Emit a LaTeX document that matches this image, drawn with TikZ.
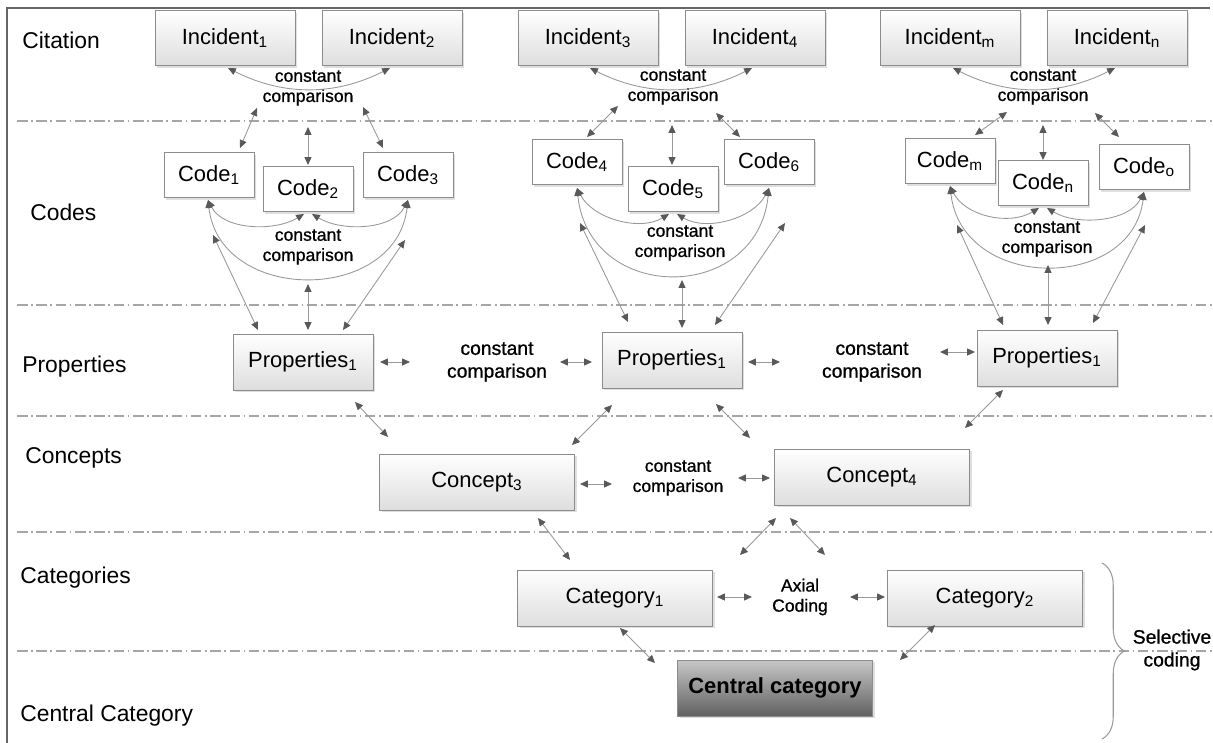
\documentclass[tikz,border=0pt]{standalone}
\usepackage{fontspec}
\setmainfont{Liberation Sans}
\newfontfamily\notefont[FakeBold=0.9]{Liberation Sans}
\usetikzlibrary{arrows.meta}
\usetikzlibrary{shadows}
\usetikzlibrary{decorations.pathreplacing}

\begin{document}
\begin{tikzpicture}[x=0.02cm, y=-0.02cm,
		box/.style={draw=black!45, top color=white, bottom color=black!13, inner sep=0pt,
			drop shadow={shadow xshift=1.4pt, shadow yshift=-1.4pt, opacity=0.25},
			font=\fontsize{12.5}{15}\selectfont},
		incbox/.style={box, minimum width=2.8cm, minimum height=1.1cm},
		codebox/.style={box, top color=white, bottom color=white, minimum width=1.8cm, minimum height=0.9cm},
		propbox/.style={box, minimum width=2.8cm, minimum height=1.12cm},
		widebox/.style={box, minimum width=3.9cm, minimum height=1.12cm},
		centralbox/.style={widebox, top color=black!22, bottom color=black!62, font=\fontsize{12.5}{15}\selectfont\bfseries},
		note/.style={align=center, inner sep=0pt, font=\notefont\fontsize{10}{11.5}\selectfont},
		bignote/.style={note, font=\notefont\fontsize{11}{13}\selectfont},
		row/.style={anchor=west, inner sep=0pt, font=\fontsize{13}{15}\selectfont},
		link/.style={{Triangle[length=4.5pt,width=4pt,color=black!65]}-{Triangle[length=4.5pt,width=4pt,color=black!65]}, draw=black!40, line width=0.5pt},
		sep/.style={draw=black!35, line width=0.6pt, dash pattern=on 6pt off 2pt on 1pt off 2pt},
		selbrace/.style={decorate, decoration={brace, amplitude=0.45cm}, draw=black!40, line width=0.6pt}
	]
	\useasboundingbox (0,0) rectangle (1213,743);
	\draw[black!60, line width=1pt] (1210,8) -- (7,8) -- (7,743);
	\foreach \y in {121,305,416,532,651} {
		\draw[sep] (17,\y) -- (1213,\y);
	}

	\node[row] (lcit) at (22,40) {Citation};
	\node[row] (lcod) at (30,212) {Codes};
	\node[row] (lpro) at (22,367) {Properties};
	\node[row] (lcon) at (25,458) {Concepts};
	\node[row] (lcat) at (20,578) {Categories};
	\node[row] (lcen) at (20,716) {Central Category};

	% citation
	\node[incbox] (inc1) at (225,38) {Incident\textsubscript{1}};
	\node[incbox] (inc2) at (392,38) {Incident\textsubscript{2}};
	\node[incbox] (inc3) at (588,38) {Incident\textsubscript{3}};
	\node[incbox] (inc4) at (755,38) {Incident\textsubscript{4}};
	\node[incbox] (incm) at (950,38) {Incident\textsubscript{m}};
	\node[incbox] (incn) at (1117,38) {Incident\textsubscript{n}};
	\node[note] (t1) at (308,88) {constant\\comparison};
	\node[note] (t2) at (673,87) {constant\\comparison};
	\node[note] (t3) at (1043,87) {constant\\comparison};

	% codes
	\node[codebox] (c1) at (209,175) {Code\textsubscript{1}};
	\node[codebox] (c2) at (308,189) {Code\textsubscript{2}};
	\node[codebox] (c3) at (408,175) {Code\textsubscript{3}};
	\node[codebox] (c4) at (577,162) {Code\textsubscript{4}};
	\node[codebox] (c5) at (673,189) {Code\textsubscript{5}};
	\node[codebox] (c6) at (769,162) {Code\textsubscript{6}};
	\node[codebox] (cm) at (950,161) {Code\textsubscript{m}};
	\node[codebox] (cn) at (1043,183) {Code\textsubscript{n}};
	\node[codebox] (co) at (1144,167) {Code\textsubscript{o}};
	\node[note] (s1) at (308,247) {constant\\comparison};
	\node[note] (s2) at (680,243) {constant\\comparison};
	\node[note] (s3) at (1047,239) {constant\\comparison};

	% properties, concepts, categories
	\node[propbox] (pa) at (303,362) {Properties\textsubscript{1}};
	\node[propbox] (pb) at (672,360) {Properties\textsubscript{1}};
	\node[propbox] (pc) at (1047,358) {Properties\textsubscript{1}};
	\node[bignote] (u1) at (497,362) {constant\\comparison};
	\node[bignote] (u2) at (872,362) {constant\\comparison};
	\node[widebox] (k3) at (477,482) {Concept\textsubscript{3}};
	\node[widebox] (k4) at (872,477) {Concept\textsubscript{4}};
	\node[note] (v1) at (678,478) {constant\\comparison};
	\node[widebox] (g1) at (615,598) {Category\textsubscript{1}};
	\node[widebox] (g2) at (985,598) {Category\textsubscript{2}};
	\node[note] (ax) at (800,597) {Axial\\Coding};
	\node[centralbox] (cc) at (775,688) {Central category};
	\node[bignote] (sel) at (1172,650) {Selective\\coding};
	\draw[selbrace] (1102,563) -- (1102,739);

	% incident arcs
	\draw[link] ([shift={(3,30)}]inc1.center) .. controls +(55,28) and +(-55,28) .. ([shift={(-2,30)}]inc2.center);
	\draw[link] ([shift={(2,30)}]inc3.center) .. controls +(55,28) and +(-55,28) .. ([shift={(-3,30)}]inc4.center);
	\draw[link] ([shift={(3,30)}]incm.center) .. controls +(55,28) and +(-55,28) .. ([shift={(-2,30)}]incn.center);

	% comparison to codes
	\draw[link] ([shift={(-51,20)}]t1.center) -- ([shift={(31,-27)}]c1.center);
	\draw[link] ([shift={(0,39)}]t1.center) -- ([shift={(0,-24)}]c2.center);
	\draw[link] ([shift={(55,19)}]t1.center) -- ([shift={(-25,-27)}]c3.center);
	\draw[link] ([shift={(-55,19)}]t2.center) -- ([shift={(10,-25)}]c4.center);
	\draw[link] ([shift={(-1,38)}]t2.center) -- ([shift={(-1,-24)}]c5.center);
	\draw[link] ([shift={(43,26)}]t2.center) -- ([shift={(-29,-25)}]c6.center);
	\draw[link] ([shift={(-36,25)}]t3.center) -- ([shift={(25,-26)}]cm.center);
	\draw[link] ([shift={(0,38)}]t3.center) -- ([shift={(0,-23)}]cn.center);
	\draw[link] ([shift={(52,26)}]t3.center) -- ([shift={(-25,-30)}]co.center);

	% code arcs
	\draw[link] ([shift={(-1,25)}]c1.center) .. controls +(15,30) and +(-30,18) .. ([shift={(-4,25)}]c2.center);
	\draw[link] ([shift={(0,25)}]c3.center) .. controls +(-15,30) and +(30,18) .. ([shift={(4,25)}]c2.center);
	\draw[link] ([shift={(-1,25)}]c1.center) .. controls +(12,104) and +(-12,104) .. ([shift={(0,25)}]c3.center);
	\draw[link] ([shift={(0,26)}]c4.center) .. controls +(15,30) and +(-30,18) .. ([shift={(-4,25)}]c5.center);
	\draw[link] ([shift={(0,26)}]c6.center) .. controls +(-15,30) and +(30,18) .. ([shift={(4,25)}]c5.center);
	\draw[link] ([shift={(0,26)}]c4.center) .. controls +(12,116) and +(-12,116) .. ([shift={(0,26)}]c6.center);
	\draw[link] ([shift={(0,25)}]cm.center) .. controls +(15,30) and +(-30,18) .. ([shift={(-4,25)}]cn.center);
	\draw[link] ([shift={(0,25)}]co.center) .. controls +(-15,30) and +(30,18) .. ([shift={(4,25)}]cn.center);
	\draw[link] ([shift={(0,25)}]cm.center) .. controls +(12,106) and +(-12,100) .. ([shift={(0,25)}]co.center);

	% codes to properties
	\draw[link] ([shift={(4,60)}]c1.center) -- ([shift={(-45,-32)}]pa.center);
	\draw[link] ([shift={(0,37)}]s1.center) -- ([shift={(5,-32)}]pa.center);
	\draw[link] ([shift={(-3,65)}]c3.center) -- ([shift={(40,-32)}]pa.center);
	\draw[link] ([shift={(3,61)}]c4.center) -- ([shift={(-44,-38)}]pb.center);
	\draw[link] ([shift={(2,37)}]s2.center) -- ([shift={(10,-32)}]pb.center);
	\draw[link] ([shift={(16,61)}]c6.center) -- ([shift={(43,-35)}]pb.center);
	\draw[link] ([shift={(7,64)}]cm.center) -- ([shift={(-44,-33)}]pc.center);
	\draw[link] ([shift={(1,26)}]s3.center) -- ([shift={(1,-33)}]pc.center);
	\draw[link] ([shift={(1,58)}]co.center) -- ([shift={(46,-35)}]pc.center);

	% properties level
	\draw[link] ([shift={(77,0)}]pa.center) -- ([shift={(-87,0)}]u1.center);
	\draw[link] ([shift={(63,0)}]u1.center) -- ([shift={(-80,2)}]pb.center);
	\draw[link] ([shift={(76,2)}]pb.center) -- ([shift={(-92,0)}]u2.center);
	\draw[link] ([shift={(68,-10)}]u2.center) -- ([shift={(-72,-6)}]pc.center);

	% properties to concepts
	\draw[link] ([shift={(52,40)}]pa.center) -- ([shift={(-89,-45)}]k3.center);
	\draw[link] ([shift={(-60,45)}]pb.center) -- ([shift={(95,-37)}]k3.center);
	\draw[link] ([shift={(44,44)}]pb.center) -- ([shift={(-122,-39)}]k4.center);
	\draw[link] ([shift={(-44,32)}]pc.center) -- ([shift={(93,-49)}]k4.center);
	\draw[link] ([shift={(103,2)}]k3.center) -- ([shift={(-66,6)}]v1.center);
	\draw[link] ([shift={(60,0)}]v1.center) -- ([shift={(-102,1)}]k4.center);

	% concepts to categories
	\draw[link] ([shift={(61,36)}]k3.center) -- ([shift={(-45,-38)}]g1.center);
	\draw[link] ([shift={(-96,41)}]k4.center) -- ([shift={(-60,-42)}]ax.center);
	\draw[link] ([shift={(-82,41)}]k4.center) -- ([shift={(25,-42)}]ax.center);
	\draw[link] ([shift={(102,-1)}]g1.center) -- ([shift={(-48,0)}]ax.center);
	\draw[link] ([shift={(50,0)}]ax.center) -- ([shift={(-100,-1)}]g2.center);

	% categories to central
	\draw[link] ([shift={(5,30)}]g1.center) -- ([shift={(-120,-25)}]cc.center);
	\draw[link] ([shift={(-50,27)}]g2.center) -- ([shift={(125,-28)}]cc.center);
\end{tikzpicture}
\end{document}
